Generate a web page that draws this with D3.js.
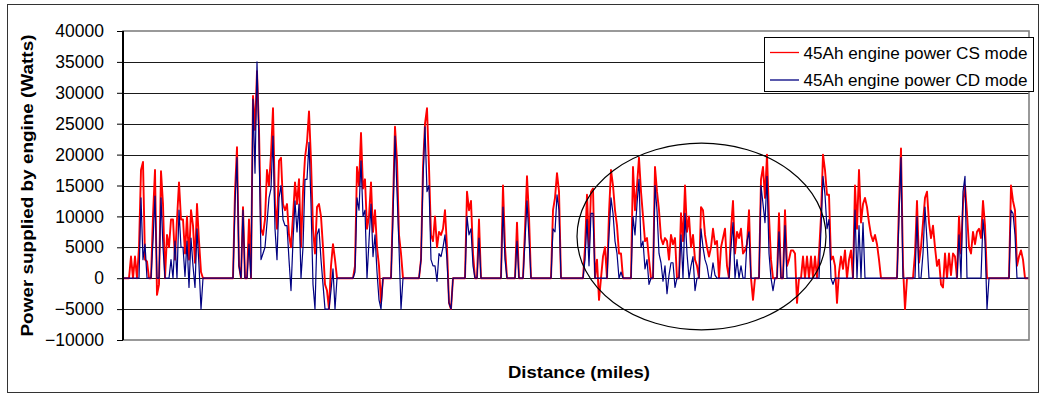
<!DOCTYPE html>
<html>
<head>
<meta charset="utf-8">
<script src="https://cdn.jsdelivr.net/npm/d3@7"></script>
<style>
  body { margin: 0; background: #fff; }
  svg { display: block; font-family: "Liberation Sans", Arial, sans-serif; }
</style>
</head>
<body>
<svg id="chart" width="1039" height="394"></svg>
<script>
// engine power in kW, one reading per sample along the trip
const csPower = [
  0,0,0,0,3.5,0,3.5,0,5,17.5,
  18.8,3,2.7,0,0,10,17.5,-2.7,-1,17.3,
  12,0,7,5,9.5,9.5,3,9.5,15.5,9.5,
  9.5,4,10,3,11,8.5,2.5,12,6,1,
  0,0,0,0,0,0,0,0,0,0,
  0,0,0,0,0,0,14,21.2,2,0,
  11.5,0,0,9.5,0,29.5,24,33.5,24,8,
  7,9.5,17.5,15,20,27.5,12,8,19,19.5,
  12,11,12,7,5,10,15.5,12,16,5,
  14,19.5,22,27,19,8,4,11.5,12,10,
  5,-1,-2,-5,2,5.5,3,0,0,0,
  0,0,0,0,0,0,2,18,15,23.5,
  14.5,16,8,10,15.5,7.5,11,5,2,-4,
  0,0,0,0,0,12,24.5,19,7,4,
  0,0,0,0,0,0,0,0,0,3,
  18,25,27.5,18,7,6,10,5,7.5,7,
  8,11,5,-4,-5,0,0,0,0,0,
  0,0,14,11,12.5,4,0,0,9.5,0,
  0,0,0,0,0,0,0,0,0,0,
  15,5,0,0,0,0,0,9,0,0,
  0,8,16.5,10,0,0,0,0,0,0,
  0,0,0,0,0,11,13,17,14,0,
  0,0,0,0,0,0,0,0,0,0,
  0,5,13.5,5,14,14.5,0,3,-3.5,0,
  3.5,5,0,10.5,17.5,15,11,8.5,4,4,
  0,0,0,0,0,18,11,15,19.5,14,
  10,6,6.5,3,0,0,18,14,11,6.5,
  5.5,6.5,6,3,7,5.5,6.5,0,0,10.5,
  6,15,7.5,10,5,7,3,2,0,11.5,
  11,7,5,3.5,5,8,5.5,6,0,5,
  6.5,8,2,0,8,12.5,4,7.5,6.5,8,
  4,4.5,5.5,11,0,-3.5,0,0,0,16,
  18,13,20,10,3,0,0,0,10.5,0,
  0,11,2,3,4.5,4.5,4,-4,0,0,
  3.5,0,3.5,0,3.5,0,3.5,0,4,10,
  20,17.5,13.5,13.5,3,3.5,2,-4,1,3.5,
  1.5,4.5,0,3,4.5,0,15,8,17.5,9,
  12,13,11.5,9,7,6,7,5.5,3,0,
  0,0,0,0,0,0,0,0,12,21,
  2,-5,0,0,0,0,4,12.5,2.5,5,
  9,13,14,9,6.5,8.5,5,2,3,-1,
  -1.5,4,0,4,0.5,4,3.5,0,10,4,
  12,15,10.5,5,4,7.5,5.5,7.5,8,6.5,
  12.5,8.5,0,0,0,0,0,0,0,0,
  0,0,0,0,15,12.5,11,2,3.5,4.5,
  3,0,0,0
];

const cdPower = [
  0,0,0,0,0,0,0,0,0,13,
  3,5.5,0,0,0,6,13.3,0,0,13,
  5,0,0,0,3,0,6,0,11,5,
  5,0.3,6,-1.5,6.5,2,-1.5,8,2,-5,
  0,0,0,0,0,0,0,0,0,0,
  0,0,0,0,0,0,12,19.5,2,0,
  11,0,0,5.5,0,29,17,35,22,3,
  4,5,9,13,14.5,23,8,3,13,15,
  9.5,8.5,8.5,3,-2,6,12.5,7.5,12,0,
  5,16,16,22,12,-1,-5,7,8,3,
  -1,-5,-5,-5,-2,1.5,-5,0,0,0,
  0,0,0,0,0,0,1,13,11,19,
  10,11,0,6,12,3.5,7,1,-3.5,-5,
  0,0,0,0,0,10,23,14,5,-5,
  0,0,0,0,0,0,0,0,0,3,
  16,24.5,14,15,3,2,2,-0.5,4,3.5,
  5,7,3,-4,-5,0,0,0,0,0,
  0,0,10,7,8,2,0,0,6.5,0,
  0,0,0,0,0,0,0,0,0,0,
  11.5,3,0,0,0,0,0,6,0,0,
  0,6,12.5,6.5,0,0,0,0,0,0,
  0,0,0,0,0,8,7.5,13.5,11,0,
  0,0,0,0,0,0,0,0,0,0,
  0,3,9.5,2,10.5,10.5,0,0,0,0,
  0,0,0,7,13,10.5,6,4,0,1,
  0,0,0,0,0,10,7,12,16,5,
  6,1.5,3,-1,0,0,15,11,4,2.5,
  -0.5,2,-2.5,0.5,2.5,2.5,-1.5,0,0,7,
  0,10.5,4,0,2,3.5,-2,0,0,8,
  5,3,2,0,0,2.5,0.5,0,0,0,
  0,0,0,0,5,9,0,3,0,2,
  0,0,6,7.5,0,0,0,0,0,15,
  12,9,16.5,4,0,-2,0,0,7.5,0,
  0,8.5,0,0,0,0,0,0,0,0,
  0,0,0,0,0,0,0,0,0,8,
  16.5,13.5,8,9.5,0,-1,0,0,0,0,
  0,0,0,0,0,0,11,0,8.5,0,
  9,0,0,0,0,0,0,0,0,0,
  0,0,0,0,0,0,0,0,10,19.5,
  0,0,0,0,0,0,0,10,0,0,
  4,11.5,6,0,0,0,0,0,0,0,
  0,0,0,0,0,0,0,0,7,0,
  14,16.5,0,0,0,0,0,0,0,0,
  9.5,6,-5,0,0,0,0,0,0,0,
  0,0,0,0,11,10.5,7,0,0,0,
  0,0,0,0
];

const yTicks = [-10000, -5000, 0, 5000, 10000, 15000, 20000, 25000, 30000, 35000, 40000];
const seriesNames = ["45Ah engine power CS mode", "45Ah engine power CD mode"];
const seriesColors = ["#ff0000", "#000080"];
// circled region: centre (sample, watts) and half-extents
const highlight = { sample: 289.25, watts: 6750, halfSamples: 62.25, halfWatts: 15100 };

const svg = d3.select("#chart");
const plot = { left: 123, right: 1029, top: 31, bottom: 340 };

// outer chart frame
svg.append("rect")
  .attr("x", 7.5).attr("y", 4.5)
  .attr("width", 1031).attr("height", 388)
  .attr("fill", "#fff").attr("stroke", "#333").attr("stroke-width", 1);

const x = d3.scaleLinear()
  .domain([0, csPower.length - 1])
  .range([plot.left, plot.right]);
const y = d3.scaleLinear()
  .domain([-10000, 40000])
  .range([plot.bottom, plot.top]);

// gridlines
svg.append("g")
  .selectAll("line")
  .data(yTicks.filter((t) => t > -10000 && t < 40000))
  .join("line")
  .attr("x1", plot.left).attr("x2", plot.right)
  .attr("y1", (d) => Math.round(y(d)) + 0.5)
  .attr("y2", (d) => Math.round(y(d)) + 0.5)
  .attr("stroke", "#1a1a1a").attr("stroke-width", 1);

// series (CS first, CD on top)
const line = d3.line()
  .x((d, i) => x(i))
  .y((d) => y(d * 1000));

[csPower, cdPower].forEach((s, k) => {
  svg.append("path")
    .datum(s)
    .attr("d", line)
    .attr("fill", "none")
    .attr("stroke", seriesColors[k])
    .attr("stroke-width", k === 0 ? 1.9 : 1.2)
    .attr("stroke-linejoin", "round");
});

// annotation ellipse
const cx = x(highlight.sample);
const cy = y(highlight.watts);
svg.append("ellipse")
  .attr("cx", cx).attr("cy", cy)
  .attr("rx", x(highlight.sample + highlight.halfSamples) - cx)
  .attr("ry", y(highlight.watts - highlight.halfWatts) - cy)
  .attr("fill", "none").attr("stroke", "#000").attr("stroke-width", 1.2);

// plot area frame (grey, Excel style)
svg.append("rect")
  .attr("x", plot.left).attr("y", plot.top)
  .attr("width", plot.right - plot.left).attr("height", plot.bottom - plot.top)
  .attr("fill", "none").attr("stroke", "#808080").attr("stroke-width", 1.6);

// y axis
const yAxis = svg.append("g")
  .attr("transform", `translate(${plot.left},0)`)
  .call(d3.axisLeft(y).tickValues(yTicks).tickSize(6).tickPadding(13).tickFormat(d3.format("d")));
yAxis.select(".domain").attr("stroke", "#000").attr("stroke-width", 2)
  .attr("d", `M0,${plot.top}V${plot.bottom}`);
yAxis.selectAll(".tick line").attr("stroke", "#000");
yAxis.selectAll(".tick text")
  .attr("fill", "#000")
  .style("font-size", "17.5px")
  .style("font-family", "'Liberation Sans', Arial, sans-serif");

// axis titles
svg.append("text")
  .attr("transform", `translate(33,${(plot.top + plot.bottom) / 2}) rotate(-90)`)
  .attr("text-anchor", "middle")
  .attr("textLength", 302).attr("lengthAdjust", "spacingAndGlyphs")
  .style("font-size", "17px").style("font-weight", "bold")
  .text("Power supplied by engine (Watts)");

svg.append("text")
  .attr("x", 579).attr("y", 377.5)
  .attr("text-anchor", "middle")
  .attr("textLength", 142).attr("lengthAdjust", "spacingAndGlyphs")
  .style("font-size", "16.5px").style("font-weight", "bold")
  .text("Distance (miles)");

// legend
const legend = svg.append("g").attr("transform", "translate(764,37)");
legend.append("rect")
  .attr("x", 0.5).attr("y", 0.5).attr("width", 269).attr("height", 54)
  .attr("fill", "#fff").attr("stroke", "#000").attr("stroke-width", 1);
const item = legend.selectAll("g.item")
  .data(seriesNames)
  .join("g")
  .attr("class", "item")
  .attr("transform", (d, i) => `translate(0,${15.5 + i * 27.5})`);
item.append("line")
  .attr("x1", 6).attr("x2", 35)
  .attr("stroke", (d, i) => seriesColors[i]).attr("stroke-width", 1.3);
item.append("text")
  .attr("x", 39.5).attr("y", 6)
  .attr("textLength", 224).attr("lengthAdjust", "spacingAndGlyphs")
  .style("font-size", "16.8px")
  .text((d) => d);
</script>
</body>
</html>
